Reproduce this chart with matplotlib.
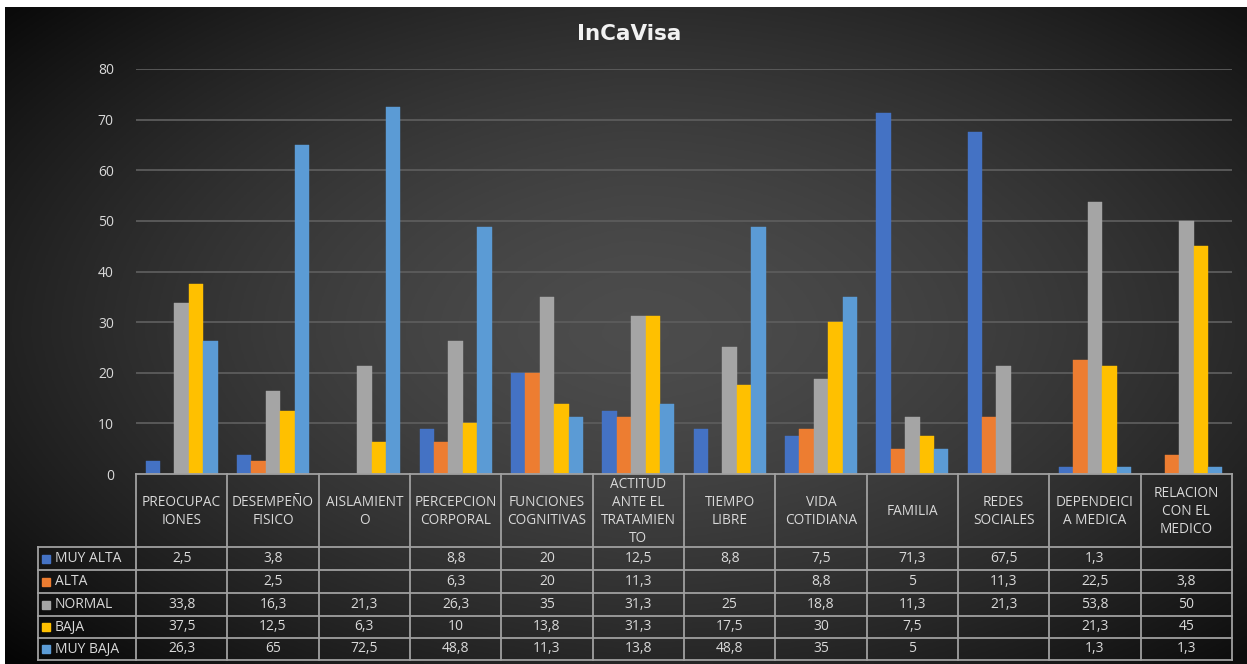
import numpy as np
import matplotlib
matplotlib.use('Agg')
import matplotlib.pyplot as plt

# data (None = empty cell)
categorias = ['PREOCUPAC\nIONES', 'DESEMPEÑO\nFISICO', 'AISLAMIENT\nO', 'PERCEPCION\nCORPORAL',
              'FUNCIONES\nCOGNITIVAS', 'ACTITUD\nANTE EL\nTRATAMIEN\nTO', 'TIEMPO\nLIBRE',
              'VIDA\nCOTIDIANA', 'FAMILIA', 'REDES\nSOCIALES', 'DEPENDEICI\nA MEDICA',
              'RELACION\nCON EL\nMEDICO']
series = ['MUY ALTA', 'ALTA', 'NORMAL', 'BAJA', 'MUY BAJA']
muy_alta = [2.5, 3.8, None, 8.8, 20, 12.5, 8.8, 7.5, 71.3, 67.5, 1.3, None]
alta = [None, 2.5, None, 6.3, 20, 11.3, None, 8.8, 5, 11.3, 22.5, 3.8]
normal = [33.8, 16.3, 21.3, 26.3, 35, 31.3, 25, 18.8, 11.3, 21.3, 53.8, 50]
baja = [37.5, 12.5, 6.3, 10, 13.8, 31.3, 17.5, 30, 7.5, None, 21.3, 45]
muy_baja = [26.3, 65, 72.5, 48.8, 11.3, 13.8, 48.8, 35, 5, None, 1.3, 1.3]
valores = [muy_alta, alta, normal, baja, muy_baja]
colores = ['#4472C4', '#ED7D31', '#A5A5A5', '#FFC000', '#5B9BD5']
yticks = [0, 10, 20, 30, 40, 50, 60, 70, 80]

W, H = 1247, 664
txtc = '#d9d9d9'
linec = '#a0a0a0'
fuente = 'Open Sans'

fig = plt.figure(figsize=(W / 100, H / 100), dpi=100)
fig.patch.set_facecolor('white')

# background gradient
bg = fig.add_axes([5 / W, 0, 1 - 5 / W, (H - 7) / H], zorder=0)
gx, gy = np.meshgrid(np.linspace(-1, 1, 400), np.linspace(-1, 1, 220))
r = np.sqrt((gx / 1.05) ** 2 + (gy / 1.1) ** 2)
val = 0.30 - 0.15 * np.clip(r, 0, 1.3) ** 1.6
val = val - 0.03 * (gx < 0) * (-gx) - 0.02 * (gy > 0) * gy
bg.imshow(np.dstack([val, val, val]).clip(0, 1), aspect='auto', extent=(0, 1, 0, 1))
bg.set_axis_off()

# chart axes
x0, x1 = 136, 1232
y0, y1 = 474, 69
ax = fig.add_axes([x0 / W, (H - y0) / H, (x1 - x0) / W, (y0 - y1) / H], zorder=2)
ax.patch.set_alpha(0)
n = len(categorias)
x = np.arange(n)
bw = 0.158
for k in range(len(series)):
    v = np.array([np.nan if a is None else a for a in valores[k]], dtype=float)
    ax.bar(x + (k - 2) * bw, v, width=bw, color=colores[k], edgecolor=colores[k],
           linewidth=0.3, zorder=3)
ax.set_xlim(-0.5, n - 0.5)
ax.set_ylim(0, 80)
ax.set_yticks(yticks)
ax.set_yticklabels([str(t) for t in yticks], color=txtc, fontsize=10, family=fuente)
ax.tick_params(axis='y', length=0, pad=16)
ax.set_xticks([])
for t in yticks[1:]:
    ax.axhline(t, color='#5c5c5c', linewidth=1.3, zorder=1)
for s in ax.spines.values():
    s.set_visible(False)

fig.text(629 / W, 1 - 34 / H, 'InCaVisa', ha='center', va='center', color='#f2f2f2',
         fontsize=15.5, fontweight='bold', family='DejaVu Sans')

# data table drawn in pixel coordinates
tb = fig.add_axes([0, 0, 1, 1], zorder=3)
tb.set_xlim(0, W)
tb.set_ylim(H, 0)
tb.set_axis_off()
tb.patch.set_alpha(0)
cols = np.linspace(x0, x1, n + 1)
rows = [474, 547, 570, 593, 616, 638, 660]
legx = 38
lw = 1.3
tb.plot([x0, x1], [rows[0], rows[0]], color=linec, lw=lw)
for yy in rows[1:]:
    tb.plot([legx, x1], [yy, yy], color=linec, lw=lw)
for xx in cols:
    tb.plot([xx, xx], [rows[0], rows[-1]], color=linec, lw=lw)
tb.plot([legx, legx], [rows[1], rows[-1]], color=linec, lw=lw)

for i, c in enumerate(categorias):
    tb.text((cols[i] + cols[i + 1]) / 2, (rows[0] + rows[1]) / 2 + 1, c, ha='center',
            va='center', color=txtc, fontsize=9.8, family=fuente, linespacing=1.25)
for k, s in enumerate(series):
    yc = (rows[k + 1] + rows[k + 2]) / 2
    tb.add_patch(plt.Rectangle((legx + 4, yc - 4), 8, 8, color=colores[k]))
    tb.text(legx + 17, yc, s, ha='left', va='center', color=txtc, fontsize=10, family=fuente)
    for i in range(n):
        v = valores[k][i]
        if v is None:
            continue
        lab = ('%g' % v).replace('.', ',')
        tb.text((cols[i] + cols[i + 1]) / 2, yc, lab, ha='center', va='center',
                color=txtc, fontsize=10, family=fuente)

fig.savefig('out.png', dpi=100, facecolor=fig.get_facecolor())
